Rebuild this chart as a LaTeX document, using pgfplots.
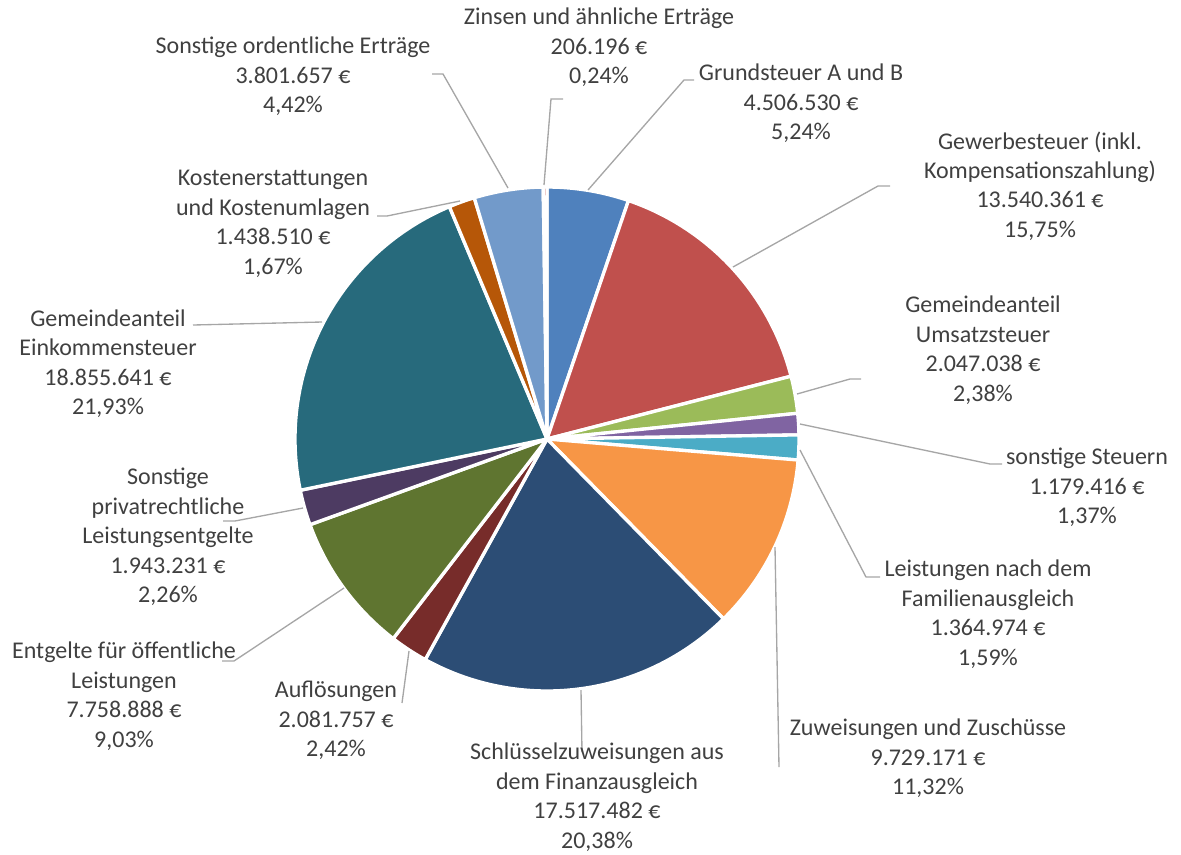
\documentclass[border=0pt]{standalone}
\usepackage{fontspec}
\setmainfont{Carlito}
\usepackage{pgfplots}
\pgfplotsset{compat=1.18}
\definecolor{cA}{HTML}{4F81BD}
\definecolor{cB}{HTML}{C0504D}
\definecolor{cC}{HTML}{9BBB59}
\definecolor{cD}{HTML}{8064A2}
\definecolor{cE}{HTML}{4BACC6}
\definecolor{cF}{HTML}{F79646}
\definecolor{cG}{HTML}{2C4D75}
\definecolor{cH}{HTML}{772C2A}
\definecolor{cI}{HTML}{5F7530}
\definecolor{cJ}{HTML}{4D3B62}
\definecolor{cK}{HTML}{276A7C}
\definecolor{cL}{HTML}{B65708}
\definecolor{cM}{HTML}{729ACA}
\definecolor{cN}{HTML}{CD7371}
\definecolor{txt}{HTML}{404040}
\definecolor{lead}{HTML}{A6A6A6}
% slice: start percent, end percent, colour
\newcommand{\slice}[3]{%
  \addplot[fill=#3, draw=white, line width=2.5pt, line join=round,
    domain={#1*3.6}:{#2*3.6}, samples=90]
    ({547+252*sin(x)},{439-252*cos(x)}) -- (axis cs:547,439) -- cycle;}
\newcommand{\lab}[3]{\node[align=center, inner sep=0pt, text=txt,
  font=\fontsize{18}{22.1}\selectfont] at (axis cs:#1,#2) {#3};}
\begin{document}
\begin{tikzpicture}
\begin{axis}[scale only axis, width=885.75pt, height=640.5pt,
  xmin=0, xmax=1181, ymin=0, ymax=854, y dir=reverse,
  hide axis, clip=false]
% invisible frame so that the picture keeps the full size
\addplot[draw=none, forget plot] coordinates {(0,0) (1181,854)};
% percentages (cumulative bounds) of each slice
\slice{0}{5.24}{cA}       % Grundsteuer A und B 5,24
\slice{5.24}{20.99}{cB}   % Gewerbesteuer 15,75
\slice{20.99}{23.37}{cC}  % Umsatzsteuer 2,38
\slice{23.37}{24.74}{cD}  % sonstige Steuern 1,37
\slice{24.74}{26.33}{cE}  % Familienausgleich 1,59
\slice{26.33}{37.65}{cF}  % Zuweisungen 11,32
\slice{37.65}{58.03}{cG}  % Schluesselzuweisungen 20,38
\slice{58.03}{60.45}{cH}  % Aufloesungen 2,42
\slice{60.45}{69.48}{cI}  % Entgelte 9,03
\slice{69.48}{71.74}{cJ}  % privatrechtliche 2,26
\slice{71.74}{93.67}{cK}  % Einkommensteuer 21,93
\slice{93.67}{95.34}{cL}  % Kostenerstattungen 1,67
\slice{95.34}{99.76}{cM}  % Sonstige ordentliche 4,42
\slice{99.76}{100}{cN}    % Zinsen 0,24
% leader lines
\addplot[lead, line width=1pt] coordinates {(588,190) (684,80) (694,80)};
\addplot[lead, line width=1pt] coordinates {(733,267) (878,186) (890,186)};
\addplot[lead, line width=1pt] coordinates {(797,394) (850,379) (861,379)};
\addplot[lead, line width=1pt] coordinates {(800,424) (990,464) (1002,464)};
\addplot[lead, line width=1pt] coordinates {(800,450) (866,577) (880,577)};
\addplot[lead, line width=1pt] coordinates {(775,547) (779,767)};
\addplot[lead, line width=1pt] coordinates {(581,690) (582,752)};
\addplot[lead, line width=1pt] coordinates {(409,651) (402,703)};
\addplot[lead, line width=1pt] coordinates {(344,588) (234,661) (222,661)};
\addplot[lead, line width=1pt] coordinates {(303,508) (235,521) (223,521)};
\addplot[lead, line width=1pt] coordinates {(322,322) (193,325)};
\addplot[lead, line width=1pt] coordinates {(460,201) (387,216) (377,216)};
\addplot[lead, line width=1pt] coordinates {(508,188) (443,74) (432,74)};
\addplot[lead, line width=1pt] coordinates {(544,185) (551,99) (563,99)};
% labels
\lab{599}{47.5}{Zinsen und ähnliche Erträge\\206.196 €\\0,24\%}
\lab{801}{103.5}{Grundsteuer A und B\\4.506.530 €\\5,24\%}
\lab{293}{76.5}{Sonstige ordentliche Erträge\\3.801.657 €\\4,42\%}
\lab{1040}{186}{Gewerbesteuer (inkl.\\Kompensationszahlung)\\13.540.361 €\\15,75\%}
\lab{983}{350}{Gemeindeanteil\\Umsatzsteuer\\2.047.038 €\\2,38\%}
\lab{1087}{487.5}{sonstige Steuern\\1.179.416 €\\1,37\%}
\lab{988}{614}{Leistungen nach dem\\Familienausgleich\\1.364.974 €\\1,59\%}
\lab{928}{758.5}{Zuweisungen und Zuschüsse\\9.729.171 €\\11,32\%}
\lab{597}{797}{Schlüsselzuweisungen aus\\dem Finanzausgleich\\17.517.482 €\\20,38\%}
\lab{336}{720.5}{Auflösungen\\2.081.757 €\\2,42\%}
\lab{124}{696}{Entgelte für öffentliche\\Leistungen\\7.758.888 €\\9,03\%}
\lab{168}{537}{Sonstige\\privatrechtliche\\Leistungsentgelte\\1.943.231 €\\2,26\%}
\lab{108}{363.5}{Gemeindeanteil\\Einkommensteuer\\18.855.641 €\\21,93\%}
\lab{273}{224}{Kostenerstattungen\\und Kostenumlagen\\1.438.510 €\\1,67\%}
\end{axis}
\end{tikzpicture}
\end{document}
